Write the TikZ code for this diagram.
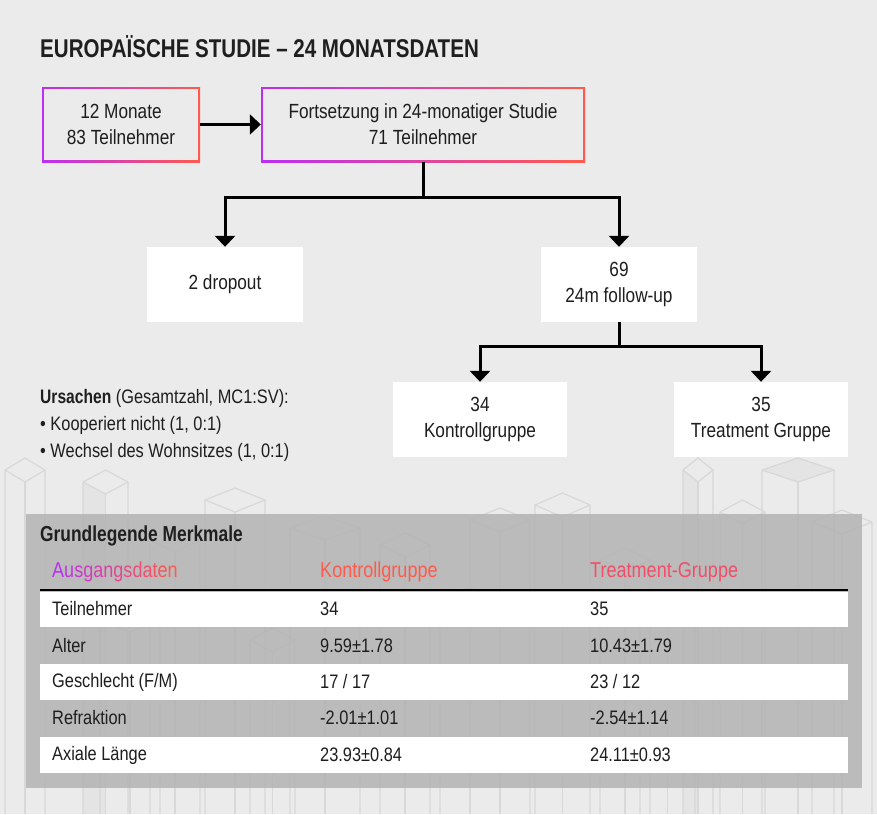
\documentclass[tikz,border=0pt]{standalone}
\usepackage{fontspec}
\setmainfont{Liberation Sans}[FakeStretch=0.84]
\newfontfamily\medfont{Liberation Sans Bold}[FakeStretch=0.80]
\usetikzlibrary{arrows.meta}

\definecolor{bgcol}{HTML}{EBEBEB}
\definecolor{vio}{HTML}{BC2EF2}
\definecolor{cor}{HTML}{FF5A4C}
\definecolor{rosa}{HTML}{F24E68}
\definecolor{panelcol}{HTML}{B3B3B3}
\definecolor{skyline}{HTML}{D8D8D8}
\definecolor{ink}{HTML}{1E1E1E}

\tikzset{
  txt/.style={font=\fontsize{20.5}{26}\selectfont, text=ink, align=center},
  gradbox/.style={txt, minimum height=75pt, inner sep=0pt, path picture={
      \shade[left color=vio, right color=cor] (path picture bounding box.south west) rectangle (path picture bounding box.north east);
      \fill[bgcol] ([shift={(2pt,2pt)}]path picture bounding box.south west) rectangle ([shift={(-2pt,-2pt)}]path picture bounding box.north east);}},
  whitebox/.style={txt, fill=white, minimum height=75pt, inner sep=0pt},
  conn/.style={line width=3pt, -{Triangle[width=20pt,length=11pt]}},
  lefttxt/.style={font=\fontsize{19.5}{22}\selectfont, text=ink, anchor=west, inner sep=0pt},
  tabtxt/.style={font=\fontsize{19.5}{22}\selectfont, text=ink, anchor=west, inner sep=0pt},
  headtxt/.style={font=\fontsize{21.5}{24}\selectfont, anchor=west, inner sep=0pt},
  house/.style={draw=skyline, line width=1.2pt},
}

\begin{document}
\begin{tikzpicture}[x=1pt, y=-1pt]
    \fill[bgcol] (0,0) rectangle (877,814);
    \useasboundingbox (0,0) rectangle (877,814);

    % skyline in the back
    \foreach \x/\w/\t in {5/40/470, 83/45/482, 150/50/540, 205/60/500, 290/70/528, 380/50/545, 470/60/520, 535/55/505, 600/50/560, 683/30/470, 720/45/512, 762/72/470, 812/60/522, 100/60/620, 250/45/640, 440/60/600, 640/55/610} {
        \draw[house] (\x,814) -- (\x,\t) -- (\x+0.5*\w,\t-12) -- (\x+\w,\t) -- (\x+\w,814);
        \draw[house] (\x,\t) -- (\x+0.5*\w,\t+12) -- (\x+\w,\t);
        \draw[house] (\x+0.5*\w,\t+12) -- (\x+0.5*\w,814);
    }
    \fill[skyline, opacity=0.35] (83,482) -- (105.5,494) -- (105.5,814) -- (83,814) -- cycle;
    \fill[skyline, opacity=0.35] (683,470) -- (698,482) -- (698,814) -- (683,814) -- cycle;
    \fill[skyline, opacity=0.35] (762,470) -- (798,458) -- (834,470) -- (798,482) -- cycle;

    \node[anchor=west, inner sep=0pt, font=\medfont\fontsize{25.7}{30}\selectfont, text=black!88] (title) at (40,47) {EUROPAÏSCHE STUDIE – 24 MONATSDATEN};

    \node[gradbox, minimum width=158pt] (mon) at (121,124.5) {12 Monate\\83 Teilnehmer};
    \node[gradbox, minimum width=324pt] (fort) at (423,124.5) {Fortsetzung in 24-monatiger Studie\\71 Teilnehmer};
    \node[whitebox, minimum width=156pt] (drop) at (225,284.5) {2 dropout};
    \node[whitebox, minimum width=156pt] (fu) at (619,284.5) {69\\24m follow-up};
    \node[whitebox, minimum width=174pt] (kg) at (480,419.5) {34\\Kontrollgruppe};
    \node[whitebox, minimum width=174pt] (tg) at (761,419.5) {35\\Treatment Gruppe};

    \draw[conn] (mon) -- (fort);
    \draw[conn] (fort.south) -- ++(0,35) -| (drop.north);
    \draw[conn] (fort.south) -- ++(0,35) -| (fu.north);
    \draw[conn] (fu.south) -- ++(0,24) -| (kg.north);
    \draw[conn] (fu.south) -- ++(0,24) -| (tg.north);

    \node[lefttxt] (urs) at (40,398) {{\medfont\textcolor{black!88}{Ursachen}} (Gesamtzahl, MC1:SV):};
    \node[lefttxt] (urs1) at (40,425) {• Kooperiert nicht (1, 0:1)};
    \node[lefttxt] (urs2) at (40,452) {• Wechsel des Wohnsitzes (1, 0:1)};

    % table
    \fill[panelcol, opacity=0.85] (26,514) rectangle (862,788);
    \node[tabtxt, text=black!88, font=\medfont\fontsize{21.7}{24}\selectfont] (tabtitle) at (40,536) {Grundlegende Merkmale};
    \node[headtxt] (h1) at (52,572) {\textcolor{vio}{A}\textcolor{vio!90!cor}{u}\textcolor{vio!80!cor}{s}\textcolor{vio!70!cor}{g}\textcolor{vio!60!cor}{a}\textcolor{vio!50!cor}{n}\textcolor{vio!42!cor}{g}\textcolor{vio!35!cor}{s}\textcolor{vio!28!cor}{d}\textcolor{vio!20!cor}{a}\textcolor{vio!14!cor}{t}\textcolor{vio!8!cor}{e}\textcolor{cor}{n}};
    \node[headtxt, text=cor] (h2) at (320,572) {Kontrollgruppe};
    \node[headtxt, text=rosa] (h3) at (590,572) {Treatment-Gruppe};
    \foreach \t/\b in {592/627, 664/700, 737/773}
        \fill[white] (40,\t) rectangle (848,\b);
    \draw[line width=2pt] (40,590) -- (848,590);
    \foreach \y/\a/\b/\c [count=\i] in {609/Teilnehmer/34/35, 646/Alter/{9.59±1.78}/{10.43±1.79}, 682/{Geschlecht (F/M)}/{17 / 17}/{23 / 12}, 718/Refraktion/{-2.01±1.01}/{-2.54±1.14}, 755/{Axiale Länge}/{23.93±0.84}/{24.11±0.93}} {
        \node[tabtxt] (r\i a) at (52,\y) {\a};
        \node[tabtxt] (r\i b) at (320,\y) {\b};
        \node[tabtxt] (r\i c) at (590,\y) {\c};
    }
\end{tikzpicture}
\end{document}
